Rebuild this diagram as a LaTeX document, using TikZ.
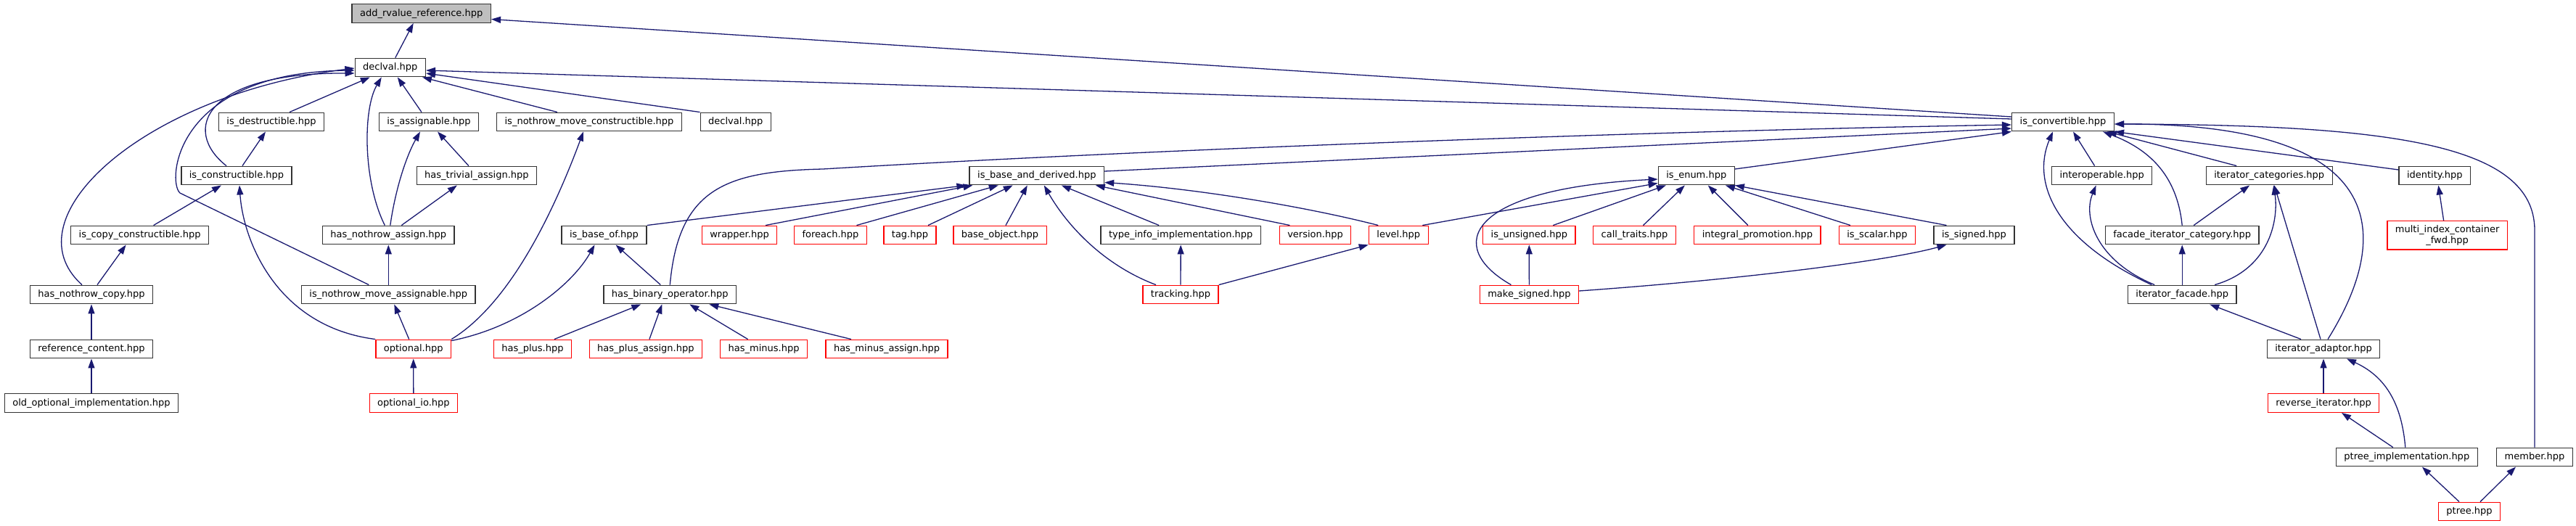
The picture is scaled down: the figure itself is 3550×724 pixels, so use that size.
\documentclass[tikz,border=0pt]{standalone}
\usepackage{fontspec}
\usepackage{tikz}
\usetikzlibrary{arrows.meta}
\newfontfamily\graphfont{DejaVu Sans}
\definecolor{edgeblue}{HTML}{191970}
\definecolor{boxgray}{HTML}{333333}
\definecolor{rootgray}{HTML}{BFBFBF}
\definecolor{missred}{HTML}{FF0000}

\begin{document}
\begin{tikzpicture}[
    x=1pt, y=-1pt,
    filebox/.style={rectangle, draw=boxgray, line width=1.4pt, fill=white, inner xsep=11pt, inner ysep=0pt, minimum height=25.5pt, font=\graphfont\fontsize{13}{14.5}\selectfont},
    file/.style={filebox, text height=9.8pt, text depth=2.8pt},
    missing/.style={file, draw=missred},
    rootfile/.style={file, fill=rootgray},
    dep/.style={draw=edgeblue, line width=1.3pt, -{Triangle[length=13pt,width=9pt]}}
]
\useasboundingbox (0,0) rectangle (3550,724);

\node[rootfile] (addrv) at (580.7,18.5) {add\_rvalue\_reference.hpp};
\node[file] (declval) at (537.8,93) {declval.hpp};
\node[file] (isdestr) at (374,168) {is\_destructible.hpp};
\node[file] (isassign) at (591,168) {is\_assignable.hpp};
\node[file] (isnmc) at (812,168) {is\_nothrow\_move\_constructible.hpp};
\node[file] (declvalb) at (1013.8,168) {declval.hpp};
\node[file] (isconv) at (2843,168) {is\_convertible.hpp};
\node[file] (isconstr) at (326,242) {is\_constructible.hpp};
\node[file] (hta) at (656.9,242) {has\_trivial\_assign.hpp};
\node[file] (ibad) at (1428.8,242) {is\_base\_and\_derived.hpp};
\node[file] (isenum) at (2337.8,242) {is\_enum.hpp};
\node[file] (interop) at (2896.6,242) {interoperable.hpp};
\node[file] (itcat) at (3127.2,242) {iterator\_categories.hpp};
\node[file] (identity) at (3355.3,242) {identity.hpp};
\node[file] (icc) at (192.6,324) {is\_copy\_constructible.hpp};
\node[file] (hna) at (535.3,324) {has\_nothrow\_assign.hpp};
\node[file] (isbaseof) at (832.5,324) {is\_base\_of.hpp};
\node[missing] (wrapper) at (1019,324) {wrapper.hpp};
\node[missing] (foreach) at (1144.5,324) {foreach.hpp};
\node[missing] (tag) at (1254,324) {tag.hpp};
\node[missing] (baseobj) at (1378,324) {base\_object.hpp};
\node[file] (typeinfo) at (1627.2,324) {type\_info\_implementation.hpp};
\node[missing] (version) at (1812.5,324) {version.hpp};
\node[missing] (level) at (1927.3,324) {level.hpp};
\node[missing] (isunsigned) at (2107.3,324) {is\_unsigned.hpp};
\node[missing] (calltraits) at (2252.5,324) {call\_traits.hpp};
\node[missing] (intprom) at (2421.9,324) {integral\_promotion.hpp};
\node[missing] (isscalar) at (2587,324) {is\_scalar.hpp};
\node[file] (issigned) at (2720.5,324) {is\_signed.hpp};
\node[file] (fic) at (3007.2,324) {facade\_iterator\_category.hpp};
\node[filebox, draw=missred, align=center, minimum height=39.5pt] (mic) at (3372.6,324.4) {multi\_index\_container\\\_fwd.hpp};
\node[file] (hnc) at (126,406) {has\_nothrow\_copy.hpp};
\node[file] (inma) at (535.3,406) {is\_nothrow\_move\_assignable.hpp};
\node[file] (hbo) at (923.3,406) {has\_binary\_operator.hpp};
\node[missing] (tracking) at (1627,406) {tracking.hpp};
\node[missing] (mksigned) at (2107.4,406) {make\_signed.hpp};
\node[file] (itf) at (3007.2,406) {iterator\_facade.hpp};
\node[file] (refc) at (126,481) {reference\_content.hpp};
\node[missing] (optional) at (569.7,481) {optional.hpp};
\node[missing] (hasplus) at (733.9,481) {has\_plus.hpp};
\node[missing] (hpa) at (889.9,481) {has\_plus\_assign.hpp};
\node[missing] (hasminus) at (1052.6,481) {has\_minus.hpp};
\node[missing] (hma) at (1222,481) {has\_minus\_assign.hpp};
\node[file] (itadapt) at (3202,481) {iterator\_adaptor.hpp};
\node[file] (oldopt) at (126,555.5) {old\_optional\_implementation.hpp};
\node[missing] (optio) at (569.9,555.5) {optional\_io.hpp};
\node[missing] (revit) at (3202,555.5) {reverse\_iterator.hpp};
\node[file] (ptimpl) at (3316.8,630) {ptree\_implementation.hpp};
\node[file] (member) at (3493,630) {member.hpp};
\node[missing] (ptree) at (3403,705) {ptree.hpp};

\draw[dep] ([xshift=7pt]declval.north) -- ([xshift=-11pt]addrv.south);
\draw[dep] ([yshift=7pt]isconv.west) -- ([yshift=-8pt]addrv.east);
\draw[dep] ([yshift=4pt]isconv.west) -- ([yshift=-4pt]declval.east);
\draw[dep] (declvalb.north west) -- ([yshift=-8pt]declval.east);
\draw[dep] ([xshift=-44pt]isnmc.north) -- ([xshift=-5pt]declval.south east);
\draw[dep] ([xshift=25pt]isdestr.north) -- ([xshift=-28pt]declval.south);
\draw[dep] ([xshift=-10pt]isassign.north) -- ([xshift=10pt]declval.south);
\draw[dep] ([xshift=-5pt]hna.north) .. controls (500,250) and (500,150) .. ([xshift=-12pt]declval.south);
\draw[dep] ([xshift=-14pt]isconstr.north) .. controls (250,180) and (280,100) .. ([yshift=-8pt]declval.west);
\draw[dep] ([xshift=-13pt]hnc.north) .. controls (10,300) and (200,130) .. ([yshift=-1pt]declval.west);
\draw[dep] ([xshift=-27pt]inma.north) -- (248,266) .. controls (230,250) and (240,100) .. ([yshift=-4pt]declval.west);
\draw[dep] ([xshift=8pt]isconstr.north) -- ([xshift=-8pt]isdestr.south);
\draw[dep] ([xshift=-11pt]hta.north) -- ([xshift=12pt]isassign.south);
\draw[dep] ([xshift=2.5pt]hna.north) .. controls (545,260) and (560,215) .. ([xshift=-12pt]isassign.south);
\draw[dep] ([xshift=18pt]hna.north) -- ([xshift=-27pt]hta.south);
\draw[dep] ([xshift=19pt]icc.north) -- ([xshift=-21pt]isconstr.south);
\draw[dep] ([xshift=8pt]hnc.north) -- ([xshift=-19pt]icc.south);
\draw[dep] (optional.north west) .. controls (380,450) and (335,330) .. ([xshift=4pt]isconstr.south);
\draw[dep] (refc) -- (hnc);
\draw[dep] (oldopt) -- (refc);
\draw[dep] (inma) -- (hna);
\draw[dep] ([xshift=-6pt]optional.north) -- ([xshift=8pt]inma.south);
\draw[dep] (optional.north east) .. controls (700,420) and (760,300) .. ([xshift=-8pt]isnmc.south);
\draw[dep] ([yshift=-2pt]optional.north east) .. controls (720,450) and (790,390) .. ([xshift=-13pt]isbaseof.south);
\draw[dep] (optio) -- (optional);
\draw[dep] (isbaseof.north east) -- ([xshift=-4pt]ibad.south west);
\draw[dep] ([xshift=-13pt]hbo.north) -- ([xshift=16pt]isbaseof.south);
\draw[dep] (hbo.north) .. controls (935,260) and (1000,236) .. (1134,233) .. controls (1600,205) and (2300,180) .. ([yshift=-4pt]isconv.west);
\draw[dep] ([yshift=6pt]ibad.east) -- ([yshift=-9pt]isconv.west);
\draw[dep] ([xshift=36pt]wrapper.north) -- ([xshift=5pt]ibad.south west);
\draw[dep] ([xshift=36pt]foreach.north) -- ([xshift=-53pt]ibad.south);
\draw[dep] ([xshift=25pt]tag.north) -- ([xshift=-33pt]ibad.south);
\draw[dep] ([xshift=8pt]baseobj.north) -- ([xshift=-13pt]ibad.south);
\draw[dep] ([xshift=-34pt]tracking.north) .. controls (1520,365) and (1470,310) .. ([xshift=10pt]ibad.south);
\draw[dep] ([xshift=-30pt]typeinfo.north) -- ([xshift=34pt]ibad.south);
\draw[dep] ([xshift=-35pt]version.north) -- ([xshift=81pt]ibad.south);
\draw[dep] ([xshift=-28pt]level.north) .. controls (1800,285) and (1650,260) .. ([yshift=4pt]ibad.south east);
\draw[dep] (tracking) -- (typeinfo);
\draw[dep] (tracking.north east) -- (level.south west);
\draw[dep] ([xshift=30pt]hasplus.north) -- ([xshift=-40pt]hbo.south);
\draw[dep] ([xshift=5pt]hpa.north) -- ([xshift=-11pt]hbo.south);
\draw[dep] ([xshift=-22pt]hasminus.north) -- ([xshift=27pt]hbo.south);
\draw[dep] ([xshift=-49pt]hma.north) -- ([xshift=54pt]hbo.south);
\draw[dep] ([yshift=9pt]isenum.east) -- (isconv.south west);
\draw[dep] ([xshift=33pt]level.north) -- ([yshift=3pt]isenum.south west);
\draw[dep] ([xshift=-25pt]mksigned.north) .. controls (1990,340) and (2020,260) .. ([yshift=-5pt]isenum.west);
\draw[dep] ([xshift=33pt]isunsigned.north) -- ([xshift=-42pt]isenum.south);
\draw[dep] ([xshift=12pt]calltraits.north) -- ([xshift=-16pt]isenum.south);
\draw[dep] ([xshift=-13pt]intprom.north) -- ([xshift=16pt]isenum.south);
\draw[dep] ([xshift=-37pt]isscalar.north) -- ([xshift=-13pt]isenum.south east);
\draw[dep] ([xshift=-38pt]issigned.north) -- (isenum.south east);
\draw[dep] (mksigned) -- (isunsigned);
\draw[dep] ([yshift=5pt]mksigned.east) .. controls (2400,385) and (2600,360) .. ([xshift=-38pt]issigned.south);
\draw[dep] ([xshift=-10pt]interop.north) -- ([xshift=14pt]isconv.south);
\draw[dep] ([xshift=-42pt]itf.north) .. controls (2830,330) and (2800,250) .. ([xshift=-14pt]isconv.south);
\draw[dep] ([xshift=-38pt]itf.north) .. controls (2890,360) and (2870,300) .. ([xshift=-8pt]interop.south);
\draw[dep] (fic.north) .. controls (3000,240) and (2960,205) .. ([xshift=-16pt]isconv.south east);
\draw[dep] ([xshift=-45pt]itcat.north) -- ([xshift=-10pt]isconv.south east);
\draw[dep] ([yshift=8pt]identity.west) -- (isconv.south east);
\draw[dep] ([xshift=6pt]itadapt.north) .. controls (3300,320) and (3290,170) .. ([yshift=-3pt]isconv.east);
\draw[dep] (member.north) -- ++(0,-300) .. controls (3492,200) and (3300,172) .. ([yshift=-3pt]isconv.east);
\draw[dep] ([xshift=16pt]fic.north) -- ([xshift=-27pt]itcat.south);
\draw[dep] (itf) -- (fic);
\draw[dep] ([xshift=45pt]itf.north) .. controls (3130,370) and (3140,300) .. ([xshift=6pt]itcat.south);
\draw[dep] ([xshift=-4pt]itadapt.north) -- ([xshift=7pt]itcat.south);
\draw[dep] ([xshift=-31pt]itadapt.north) -- ([xshift=38pt]itf.south);
\draw[dep] (revit) -- (itadapt);
\draw[dep] ([xshift=-19pt]ptimpl.north) -- ([xshift=25pt]revit.south);
\draw[dep] ([xshift=-2pt]ptimpl.north) .. controls (3310,560) and (3290,520) .. ([xshift=32pt]itadapt.south);
\draw[dep] ([xshift=-14pt]ptree.north) -- ([xshift=21pt]ptimpl.south);
\draw[dep] ([xshift=15pt]ptree.north) -- ([xshift=-26pt]member.south);
\draw[dep] ([xshift=-5pt]mic.north) -- ([xshift=5pt]identity.south);

\end{tikzpicture}
\end{document}
